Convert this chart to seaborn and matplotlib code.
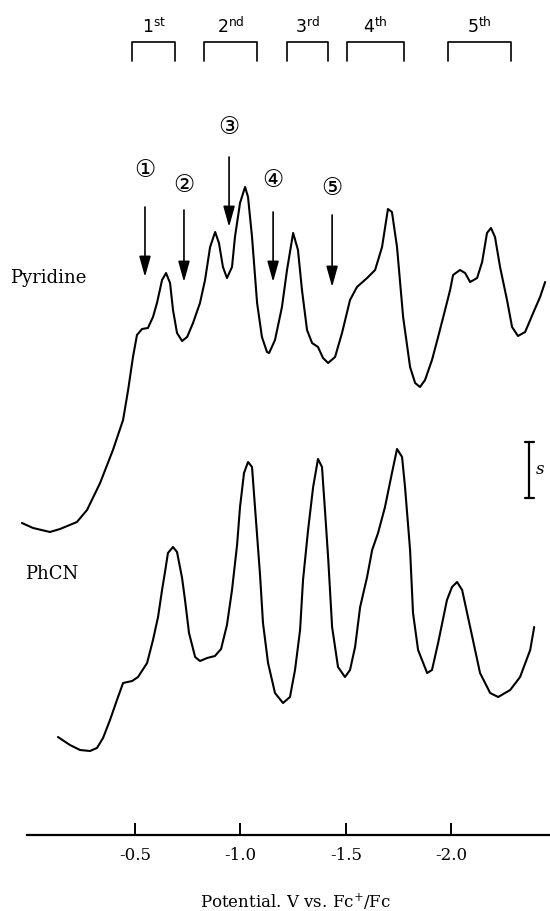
"""
Square-wave voltammograms in pyridine and PhCN (recreated figure).
"""
import numpy as np
import pandas as pd
import matplotlib
matplotlib.use('Agg')
import matplotlib.pyplot as plt
import seaborn as sns

# Potential (V vs. Fc+/Fc) and current (arbitrary units)
pyr_potential = [0.037, -0.016, -0.096, -0.144, -0.224, -0.272, -0.334, -0.395, -0.443, -0.467,
                 -0.490, -0.509, -0.533, -0.561, -0.585, -0.604, -0.628, -0.647, -0.666, -0.680,
                 -0.699, -0.723, -0.747, -0.775, -0.808, -0.832, -0.856, -0.880, -0.898, -0.917,
                 -0.936, -0.960, -0.974, -0.998, -1.022, -1.036, -1.055, -1.079, -1.102, -1.126,
                 -1.136, -1.164, -1.197, -1.221, -1.250, -1.273, -1.292, -1.316, -1.340, -1.368,
                 -1.392, -1.416, -1.449, -1.482, -1.520, -1.553, -1.601, -1.639, -1.672, -1.700,
                 -1.719, -1.743, -1.772, -1.805, -1.829, -1.852, -1.876, -1.909, -1.938, -1.971,
                 -1.995, -2.009, -2.042, -2.066, -2.090, -2.123, -2.147, -2.170, -2.189, -2.208,
                 -2.232, -2.265, -2.289, -2.317, -2.351, -2.389, -2.422, -2.446]
pyr_current = [31.2, 30.7, 30.3, 30.6, 31.3, 32.5, 35.2, 38.5, 41.5, 44.5,
               47.8, 50.0, 50.6, 50.7, 51.8, 53.2, 55.5, 56.2, 55.2, 52.5,
               50.2, 49.4, 49.8, 51.2, 53.2, 55.5, 58.8, 60.3, 59.2, 56.8,
               55.7, 56.8, 59.8, 63.2, 64.8, 63.8, 59.8, 53.2, 49.8, 48.3,
               48.2, 49.5, 52.8, 56.5, 60.2, 58.5, 54.5, 50.5, 49.2, 48.8,
               47.7, 47.2, 47.8, 50.2, 53.5, 54.8, 55.7, 56.5, 58.8, 62.6,
               62.3, 58.8, 51.8, 46.8, 45.2, 44.8, 45.5, 47.5, 49.8, 52.5,
               54.5, 56.0, 56.5, 56.2, 55.3, 55.7, 57.3, 60.2, 60.7, 59.8,
               56.8, 53.5, 50.8, 49.9, 50.3, 52.2, 53.8, 55.3]

phcn_potential = [-0.134, -0.191, -0.239, -0.286, -0.319, -0.348, -0.381, -0.414, -0.443, -0.486,
                  -0.514, -0.557, -0.585, -0.609, -0.628, -0.642, -0.656, -0.680, -0.699, -0.723,
                  -0.737, -0.756, -0.785, -0.808, -0.842, -0.879, -0.908, -0.936, -0.960, -0.984,
                  -0.998, -1.017, -1.036, -1.055, -1.069, -1.093, -1.107, -1.131, -1.164, -1.202,
                  -1.235, -1.259, -1.283, -1.297, -1.321, -1.345, -1.368, -1.387, -1.402, -1.416,
                  -1.435, -1.463, -1.496, -1.520, -1.544, -1.568, -1.601, -1.625, -1.653, -1.686,
                  -1.719, -1.743, -1.767, -1.781, -1.805, -1.819, -1.843, -1.886, -1.909, -1.938,
                  -1.980, -2.004, -2.028, -2.052, -2.090, -2.137, -2.185, -2.223, -2.280, -2.327,
                  -2.375, -2.394]
phcn_current = [9.8, 9.0, 8.5, 8.4, 8.7, 9.7, 11.5, 13.5, 15.2, 15.4,
                15.8, 17.2, 19.5, 21.8, 24.5, 26.3, 28.2, 28.8, 28.3, 25.7,
                23.5, 20.2, 17.8, 17.4, 17.7, 17.9, 18.6, 21.0, 24.5, 29.0,
                32.8, 36.2, 37.3, 36.8, 32.8, 26.0, 21.2, 17.2, 14.2, 13.2,
                13.8, 16.5, 20.5, 25.5, 30.5, 34.8, 37.6, 36.8, 32.2, 27.8,
                20.8, 16.8, 15.8, 16.5, 18.8, 22.8, 25.8, 28.5, 30.2, 32.8,
                36.2, 38.6, 37.8, 34.8, 28.5, 22.2, 18.5, 16.2, 16.5, 19.2,
                23.5, 24.8, 25.3, 24.5, 20.8, 16.2, 14.2, 13.8, 14.5, 15.8,
                18.5, 20.8]

# Reduction step brackets (potential ranges) and labels
step_labels = ['1$^{\\mathsf{st}}$', '2$^{\\mathsf{nd}}$', '3$^{\\mathsf{rd}}$',
               '4$^{\\mathsf{th}}$', '5$^{\\mathsf{th}}$']
step_start = [-0.486, -0.827, -1.221, -1.506, -1.985]
step_end = [-0.690, -1.079, -1.416, -1.776, -2.284]

# Numbered arrows on the pyridine trace
arrow_labels = ['\u2460', '\u2461', '\u2462', '\u2463', '\u2464']
arrow_potential = [-0.547, -0.732, -0.946, -1.155, -1.435]
arrow_tail = [62.8, 62.5, 67.8, 62.3, 62.0]
arrow_head = [55.8, 55.3, 60.8, 55.3, 54.8]
arrow_label_y = [66.5, 65.0, 70.8, 65.5, 64.7]

tick_values = [-0.5, -1.0, -1.5, -2.0]
tick_labels = ['-0.5', '-1.0', '-1.5', '-2.0']

sns.set_theme(style='white')
plt.rcParams['font.family'] = ['DejaVu Serif', 'Noto Sans CJK JP']
plt.rcParams['mathtext.fontset'] = 'dejavuserif'
plt.rcParams['text.color'] = 'black'
plt.rcParams['xtick.color'] = 'black'

pyr = pd.DataFrame({'potential': pyr_potential, 'current': pyr_current})
phcn = pd.DataFrame({'potential': phcn_potential, 'current': phcn_current})

fig = plt.figure(figsize=(5.5, 9.11), dpi=100)
ax = fig.add_axes([0, 76 / 911, 1, 835 / 911])

sns.lineplot(data=pyr, x='potential', y='current', color='black', lw=1.5,
             sort=False, estimator=None, ax=ax)
sns.lineplot(data=phcn, x='potential', y='current', color='black', lw=1.5,
             sort=False, estimator=None, ax=ax)

ax.set_xlim(0.141, -2.469)
ax.set_ylim(0, 83.5)

# Only the bottom axis line is shown
for side in ['top', 'right', 'left']:
    ax.spines[side].set_visible(False)
ax.spines['bottom'].set_color('black')
ax.spines['bottom'].set_linewidth(1.6)
ax.spines['bottom'].set_bounds(0.013, -2.469)
ax.set_yticks([])
ax.set_xticks(tick_values)
ax.set_xticklabels(tick_labels, fontsize=12)
ax.tick_params(axis='x', direction='in', length=9, width=1.4, color='black', pad=9,
               bottom=True, labelcolor='black')
ax.set_xlabel('')
ax.set_ylabel('')
fig.text(295 / 550, 3 / 911, 'Potential. V vs. Fc$^{+}$/Fc', ha='center', va='baseline',
         fontsize=12)

# Brackets with step labels
bracket_top, bracket_bot = 79.3, 77.4
for lab, x0, x1 in zip(step_labels, step_start, step_end):
    ax.plot([x0, x0, x1, x1], [bracket_bot, bracket_top, bracket_top, bracket_bot],
            color='black', lw=1.2, clip_on=False)
    ax.text((x0 + x1) / 2, 80.2, lab, ha='center', va='baseline', fontsize=12.5,
            family='DejaVu Sans')

# Arrows with circled numbers
for lab, xa, yt, yh, yl in zip(arrow_labels, arrow_potential, arrow_tail,
                               arrow_head, arrow_label_y):
    ax.annotate('', xy=(xa, yh), xytext=(xa, yt),
                arrowprops=dict(arrowstyle='-|>,head_length=0.9,head_width=0.25',
                                color='black', lw=1.2,
                                mutation_scale=14, shrinkA=0, shrinkB=0))
    ax.text(xa, yl, lab, ha='center', va='center', fontsize=17,
            family=['DejaVu Sans', 'Noto Sans CJK JP'])

# Scale bar
sx, s_top, s_bot = -2.370, 39.3, 33.7
ax.plot([sx, sx], [s_bot, s_top], color='black', lw=1.6)
ax.plot([sx - 0.021, sx + 0.021], [s_top, s_top], color='black', lw=1.6)
ax.plot([sx - 0.021, sx + 0.021], [s_bot, s_bot], color='black', lw=1.6)
ax.text(sx - 0.03, (s_top + s_bot) / 2, 's', ha='left', va='center', fontsize=12,
        style='italic')

# Solvent labels
ax.text(0.094, 55.7, 'Pyridine', ha='left', va='center', fontsize=13)
ax.text(0.022, 26.1, 'PhCN', ha='left', va='center', fontsize=13)

fig.savefig('out.png', dpi=100)
plt.close(fig)
